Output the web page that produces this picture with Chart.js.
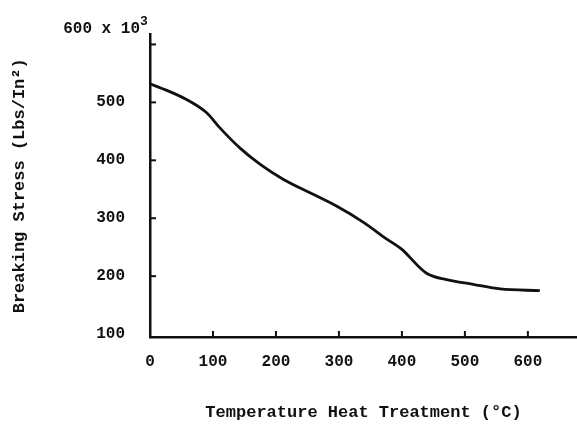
<!DOCTYPE html>
<html>
<head>
<meta charset="utf-8">
<script src="https://cdn.jsdelivr.net/npm/chart.js@4/dist/chart.umd.min.js"></script>
<style>
  html, body { margin: 0; padding: 0; background: #fff; }
  #wrap { width: 577px; height: 426px; }
</style>
</head>
<body>
<div id="wrap"><canvas id="chart"></canvas></div>
<script>
// Breaking stress vs heat-treatment temperature.
const temps = [0, 37, 63, 90, 111, 143, 175, 212, 254, 296, 339, 376, 399, 439, 471, 513, 556, 619];
const stress = [532, 516, 502, 482, 456, 421, 393, 367, 344, 321, 293, 264, 247, 205, 194, 186, 178, 175];

const xTicks = [0, 100, 200, 300, 400, 500, 600];
const yTicks = [100, 200, 300, 400, 500, 600];

const INK = '#111';
const FONT = "'Liberation Mono', 'DejaVu Sans Mono', monospace";

// Short inward tick marks + the "600 x 10^3" label over the y axis.
const paperTicks = {
  id: 'paperTicks',
  afterDraw(chart) {
    const { ctx, scales: { x, y } } = chart;
    ctx.save();
    ctx.strokeStyle = INK;
    ctx.lineWidth = 2;
    yTicks.forEach(v => {
      if (v === yTicks[0]) return;
      const py = y.getPixelForValue(v);
      ctx.beginPath();
      ctx.moveTo(x.left, py);
      ctx.lineTo(x.left + 6, py);
      ctx.stroke();
    });
    xTicks.forEach(v => {
      if (v === 0) return;
      const px = x.getPixelForValue(v);
      ctx.beginPath();
      ctx.moveTo(px, y.bottom);
      ctx.lineTo(px, y.bottom - 6);
      ctx.stroke();
    });

    // top label sits above the 600 tick
    const top = y.getPixelForValue(600);
    ctx.fillStyle = INK;
    ctx.font = `bold 16px ${FONT}`;
    ctx.textAlign = 'right';
    ctx.textBaseline = 'middle';
    ctx.fillText('600 x 10', x.left - 10, top - 15);
    ctx.font = `bold 13px ${FONT}`;
    ctx.textAlign = 'left';
    ctx.fillText('3', x.left - 10, top - 23);
    ctx.restore();
  },
};

new Chart(document.getElementById('chart'), {
  type: 'line',
  data: {
    datasets: [{
      data: temps.map((t, i) => ({ x: t, y: stress[i] })),
      borderColor: INK,
      borderWidth: 2.8,
      pointRadius: 0,
      cubicInterpolationMode: 'monotone',
      fill: false,
    }],
  },
  options: {
    responsive: true,
    maintainAspectRatio: false,
    animation: false,
    layout: { padding: { top: 33, right: 0, bottom: 2, left: 0 } },
    plugins: { legend: { display: false }, tooltip: { enabled: false } },
    scales: {
      x: {
        type: 'linear',
        min: 0,
        max: 678,
        afterBuildTicks: s => { s.ticks = xTicks.map(v => ({ value: v })); },
        afterFit: s => { s.height = 87; },
        grid: { display: false, drawTicks: false },
        border: { display: true, color: INK, width: 2.5 },
        ticks: { color: INK, padding: 15, font: { family: FONT, size: 16, weight: 'bold' } },
        title: {
          display: true,
          text: 'Temperature Heat Treatment (°C)',
          color: INK,
          padding: { top: 0, bottom: 1 },
          font: { family: FONT, size: 17, weight: 'bold' },
        },
      },
      y: {
        min: 95,
        max: 617,
        afterBuildTicks: s => { s.ticks = yTicks.map(v => ({ value: v })); },
        afterFit: s => { s.width = 150; },
        grid: { display: false, drawTicks: false },
        border: { display: true, color: INK, width: 2.5 },
        ticks: {
          color: INK,
          padding: 25,
          font: { family: FONT, size: 16, weight: 'bold' },
          callback: v => (v === 600 ? '' : String(v)),
        },
        title: {
          display: true,
          text: 'Breaking Stress (Lbs/In²)',
          color: INK,
          padding: { top: 10, bottom: 0 },
          font: { family: FONT, size: 17, weight: 'bold' },
        },
      },
    },
  },
  plugins: [paperTicks],
});
</script>
</body>
</html>
